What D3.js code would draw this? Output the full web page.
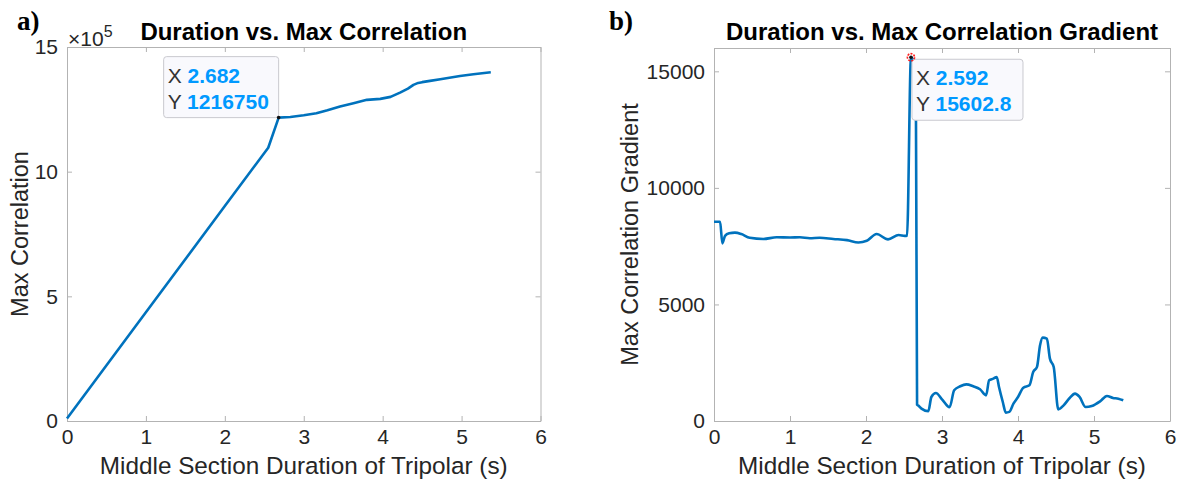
<!DOCTYPE html>
<html><head><meta charset="utf-8">
<script src="https://cdn.jsdelivr.net/npm/d3@7"></script>
<style>
body{margin:0;background:#fff;}
svg{display:block;font-family:"Liberation Sans",Arial,Helvetica,sans-serif;}
</style></head>
<body><svg id="c" width="1184" height="480"></svg>
<script>
// ---- data ----
const xTicks = [0,1,2,3,4,5,6];
const leftYTicks = [0,500000,1000000,1500000];
const rightYTicks = [0,5000,10000,15000];

const leftX = [0,1.0,2.0,2.55,2.682,2.83,3.0,3.16,3.3,3.46,3.63,3.80,3.97,4.1,4.22,4.32,4.39,4.45,4.50,4.6,4.73,4.98,5.15,5.37];
const leftY = [10000,436000,862000,1096000,1216750,1219000,1226000,1234000,1246000,1261000,1274000,1288000,1292000,1300000,1317000,1333000,1348000,1356000,1359000,1364000,1371000,1384000,1391000,1399000];

const rightX = [0.00,0.08,0.11,0.145,0.20,0.276,0.36,0.47,0.65,0.825,1.0,1.13,1.26,1.39,1.57,1.75,1.90,2.01,2.14,2.29,2.43,2.51,2.54,2.592,2.655,2.672,2.69,2.73,2.82,2.86,2.92,3.0,3.10,3.16,3.24,3.32,3.41,3.50,3.58,3.62,3.675,3.72,3.75,3.80,3.84,3.885,3.94,4.0,4.07,4.15,4.20,4.25,4.29,4.325,4.38,4.42,4.47,4.53,4.60,4.68,4.75,4.81,4.89,4.97,5.08,5.17,5.25,5.32,5.385];
const rightY = [8550,8550,7620,7940,8050,8080,8020,7860,7810,7880,7870,7880,7840,7860,7810,7760,7660,7730,8020,7790,7980,7940,7950,15602.8,15100,700,660,530,420,1030,1200,930,590,1320,1490,1570,1490,1360,1100,1745,1816,1888,1460,815,360,390,744,1030,1430,1530,2100,2320,3246,3575,3532,2674,2317,500,672,987,1173,1030,600,644,844,1073,987,958,887];

const leftTip = {x:2.682, y:1216750};
const rightTip = {x:2.592, y:15602.8};

// ---- drawing ----
const svg = d3.select("#c");
const C = "#0072BD", AX = "#b3b3b3", TXT = "#262626";

function panel(o){
  const x = d3.scaleLinear().domain([0,6]).range([o.l,o.r]);
  const y = d3.scaleLinear().domain(o.yd).range([o.b,o.t]);
  const g = svg.append("g");
  const ax = (sel)=>{sel.selectAll(".domain").attr("stroke",AX).attr("stroke-width",1);
    sel.selectAll(".tick line").attr("stroke",AX);
    sel.selectAll(".tick text").attr("fill",TXT).attr("font-size",21);};
  g.append("g").attr("transform",`translate(0,${o.b})`)
    .call(d3.axisBottom(x).tickValues(xTicks).tickSizeInner(-5).tickSizeOuter(0).tickPadding(8).tickFormat(d3.format("d"))).call(ax);
  g.append("g").attr("transform",`translate(0,${o.t})`)
    .call(d3.axisTop(x).tickValues(xTicks).tickSizeInner(-5).tickSizeOuter(0).tickFormat("")).call(ax);
  g.append("g").attr("transform",`translate(${o.l},0)`)
    .call(d3.axisLeft(y).tickValues(o.yt).tickSizeInner(-5).tickSizeOuter(0).tickPadding(9).tickFormat(o.fmt)).call(ax);
  g.append("g").attr("transform",`translate(${o.r},0)`)
    .call(d3.axisRight(y).tickValues(o.yt).tickSizeInner(-5).tickSizeOuter(0).tickFormat("")).call(ax);
  g.selectAll("text").attr("font-family",null);
  // line
  const line = d3.line().x((d,i)=>x(o.xs[i])).y((d,i)=>y(o.ys[i])).curve(o.curve);
  g.append("path").datum(o.xs).attr("d",line).attr("fill","none").attr("stroke",C).attr("stroke-width",2.6).attr("stroke-linejoin","round");
  // titles
  g.append("text").attr("x",(o.l+o.r)/2).attr("y",40).attr("text-anchor","middle")
    .attr("font-weight","bold").attr("font-size",24).attr("fill","#000").text(o.title);
  g.append("text").attr("x",(o.l+o.r)/2).attr("y",474).attr("text-anchor","middle")
    .attr("font-size",24.3).attr("fill",TXT).text("Middle Section Duration of Tripolar (s)");
  g.append("text").attr("transform",`translate(${o.yl},${(o.t+o.b)/2}) rotate(-90)`).attr("text-anchor","middle")
    .attr("font-size",23.5).attr("fill",TXT).text(o.ylabel);
  g.append("text").attr("x",o.pl).attr("y",30).attr("font-family","'Liberation Serif','Times New Roman',serif")
    .attr("font-weight","bold").attr("font-size",27).attr("fill","#000").text(o.panel);
  return {x,y,g};
}

const L = panel({l:67,r:540.5,t:47,b:421,yd:[0,1500000],yt:leftYTicks,fmt:d=>d/100000,curve:d3.curveLinear,
  xs:leftX,ys:leftY,title:"Duration vs. Max Correlation",ylabel:"Max Correlation",yl:28,panel:"a)",pl:17});
const R = panel({l:714,r:1170,t:48,b:421,yd:[0,16000],yt:rightYTicks,fmt:d3.format("d"),curve:d3.curveMonotoneX,
  xs:rightX,ys:rightY,title:"Duration vs. Max Correlation Gradient",ylabel:"Max Correlation Gradient",yl:638,panel:"b)",pl:609});

// exponent label
const ex = L.g.append("text").attr("x",68).attr("y",46).attr("font-size",21).attr("fill",TXT);
ex.append("tspan").text("\u00d710");
ex.append("tspan").attr("font-size",16).attr("dy",-9).text("5");

// datatips
function tip(P, d, anchor){
  const px = P.x(d.x), py = P.y(d.y);
  const w = anchor==="br" ? 115 : 111, h = 61;
  const bx = anchor==="br" ? px-w : px+1, by = anchor==="br" ? py-h : py+2;
  P.g.append("rect").attr("x",bx).attr("y",by).attr("width",w).attr("height",h).attr("rx",3)
    .attr("fill","#f9f9fd").attr("stroke","#c9c9cf").attr("stroke-width",1);
  const rows = [["X ",String(d.x)],["Y ",String(d.y)]];
  rows.forEach((r,i)=>{
    const t = P.g.append("text").attr("x",bx+4).attr("y",by+26+i*26).attr("font-size",21);
    t.append("tspan").attr("fill","#333").text(r[0]);
    t.append("tspan").attr("fill","#0099ff").attr("font-weight","bold").text(r[1]);
  });
  return {px,py};
}
const lt = tip(L,leftTip,"br");
L.g.append("circle").attr("cx",lt.px).attr("cy",lt.py).attr("r",1.8).attr("fill","#111");
const rt = tip(R,rightTip,"tl");
R.g.append("circle").attr("cx",rt.px).attr("cy",rt.py).attr("r",3.6).attr("fill","none").attr("stroke","#ff2020").attr("stroke-width",1.6).attr("stroke-dasharray","2,1.2");
R.g.append("circle").attr("cx",rt.px).attr("cy",rt.py).attr("r",1.8).attr("fill","#111");
</script></body></html>
